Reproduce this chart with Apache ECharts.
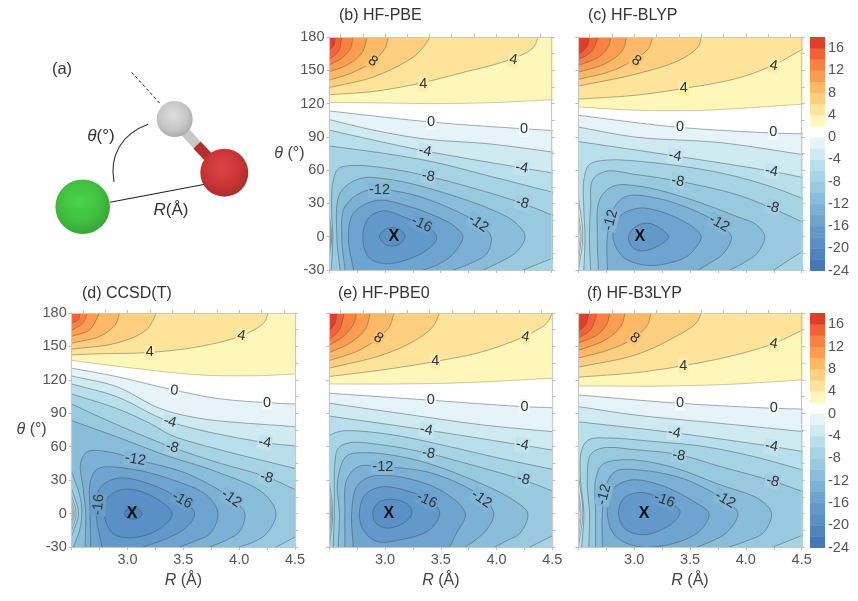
<!DOCTYPE html>
<html><head><meta charset="utf-8">
<style>html,body{margin:0;padding:0;background:#fff}#c{width:858px;height:601px}</style>
<script src="https://cdn.jsdelivr.net/npm/echarts@6/dist/echarts.min.js"></script>
</head><body><div id="c"></div>
<script>
// outside-plot closure corners, in axis units
const TL=[[2.3,200]],TR=[[4.7,200]],BR=[[4.7,-50]],BL=[[2.3,-50]];
const levelsCbar=[-24,-22,-20,-18,-16,-14,-12,-10,-8,-6,-4,-2,0,2,4,6,8,10,12,14,16];
const bandColors=['#4678b9','#4f84bf','#5a90c5','#6399ca','#6ea4cf','#7cb0d4','#89bdd9','#98c9df','#a7d4e5','#b8dfeb','#d0eaf2','#e6f4f9','#ffffff','#fff6b9','#fee39b','#fecf80','#fdb967','#fb9d53','#f78244','#f16239','#dc4029'];
const tickLabelsX=[3.0,3.5,4.0,4.5];
const topTicks=[2.6,2.8,3.0,3.2,3.4,3.6,3.8,4.0,4.2,4.4];

// contours: [level, arcs]  (R in angstrom, theta in degrees)
const contoursB=[
[2,[[[2.5,121],[3,120.5],[3.5,120],[4,121],[4.5,123.5]],TR,TL]],
[4,[[[2.5,128],[2.9,131],[3.3,138],[3.7,148],[4.12,159.5],[4.33,170],[4.38,180]],TL]],
[6,[[[2.5,134.5],[2.9,144.2],[3.26,162.4],[3.36,173],[3.405,180]],TL]],
[8,[[[2.5,141.2],[2.69,147.3],[2.89,157.9],[3.0,170],[3.03,180]],TL]],
[10,[[[2.5,148.8],[2.66,154.8],[2.79,165.5],[2.84,180]],TL]],
[12,[[[2.5,154.8],[2.61,161],[2.69,170],[2.71,180]],TL]],
[14,[[[2.5,160],[2.58,167],[2.61,180]],TL]],
[16,[[[2.5,168],[2.54,173],[2.55,180]],TL]],
[0,[[[4.5,95.8],[4.245,97.3],[3.42,103.3],[2.5,113.3]],[[2.5,5],[2.505,0],[2.5,-5]],BL,BR]],
[-2,[[[4.5,76.4],[3.945,83.6],[3.35,88.2],[2.9,96],[2.5,105.5]],[[2.5,8],[2.51,0],[2.5,-8]],BL,BR]],
[-4,[[[4.5,57.6],[4.23,62.1],[3.36,77.3],[2.9,87],[2.5,96]],[[2.5,12],[2.515,0],[2.5,-12]],BL,BR]],
[-6,[[[4.5,40.3],[3.945,54.5],[3.465,66.7],[3.05,74.2],[2.5,81.8]],[[2.5,18],[2.52,0],[2.5,-18]],BL,BR]],
[-8,[[[4.5,19.7],[4.23,30.3],[3.945,39.4],[3.39,54.5],[3.05,61.2],[2.716,64.2],[2.58,61.2],[2.53,48.5],[2.52,21.2],[2.53,0],[2.52,-24.2],[2.515,-30]],[[4.245,-30],[4.5,-19.7]]]],
[-10,[[[2.596,-30],[2.566,0],[2.596,39.4],[2.776,52.4],[3.046,51.5],[3.436,42.4],[3.945,25],[4.17,13],[4.26,0],[4.185,-13.6],[4.035,-22.7],[3.885,-30]]]],
[-12,[[[2.64,-30],[2.61,0],[2.64,27.3],[2.836,41.8],[3.106,40.9],[3.436,31.8],[3.84,12.1],[3.954,0],[3.915,-15.2],[3.765,-24.2],[3.615,-30]]]],
[-14,[[[2.716,-30],[2.67,0],[2.716,21.2],[2.926,32.7],[3.196,27.9],[3.495,16.7],[3.63,9],[3.7,0],[3.615,-15.2],[3.495,-24.2],[3.346,-30]]]],
[-16,[[[2.8,0],[2.85,16.7],[2.986,23.3],[3.196,16.7],[3.405,7.6],[3.465,-1.5],[3.375,-12],[3.166,-21.8],[2.986,-24.2],[2.85,-18.2],[2.8,0]]]],
[-18,[[[2.95,0],[2.99,6],[3.06,8],[3.14,6],[3.18,0],[3.14,-6],[3.06,-8.5],[2.99,-6],[2.95,0]]]]
];
const labelsB=[[2.89,158,'8',-35,8],[3.345,138,'4',0,4],[4.155,159.4,'4',-10,4],[3.415,103,'0',0,0],[4.25,97,'0',0,0],[3.36,77,'-4',-10,-4],[4.23,62,'-4',-10,-4],[3.39,54.5,'-8',-10,-8],[4.236,30.3,'-8',-15,-8],[2.95,41.8,'-12',0,-12],[3.84,12,'-12',-35,-12],[3.33,11.2,'-16',-25,-16]];
const crossB=[3.08,0];

const contoursC=[
[2,[[[2.5,117],[3.02,114],[3.62,114],[4.5,119.4]],TR,TL]],
[4,[[[2.5,124],[3.02,127.6],[3.44,133.6],[3.92,142.7],[4.25,154.8],[4.5,168.5]],TR,TL]],
[6,[[[2.5,135.8],[3.02,146.7],[3.41,159.4],[3.575,171.5],[3.6,180]],TL]],
[8,[[[2.5,141.8],[2.78,148.8],[3.0,159.4],[3.13,170],[3.165,180]],TL]],
[10,[[[2.5,148.2],[2.75,156.4],[2.9,168.5],[2.93,180]],TL]],
[12,[[[2.5,154.2],[2.69,162.4],[2.77,171.5],[2.79,180]],TL]],
[14,[[[2.5,159.4],[2.62,167],[2.68,180]],TL]],
[16,[[[2.5,164],[2.575,171],[2.6,180]],TL]],
[0,[[[4.5,92.7],[4.215,93.6],[3.38,98.8],[2.5,109.4]],[[2.5,14],[2.515,0],[2.5,-14]],BL,BR]],
[-2,[[[4.5,74.2],[3.77,84.8],[3.02,89.7],[2.5,98.8]],[[2.5,22],[2.525,0],[2.5,-22]],BL,BR]],
[-4,[[[4.5,53.6],[4.23,59],[3.375,72.7],[2.5,85.8]],[[2.5,36],[2.54,0],[2.5,-30]],BR]],
[-6,[[[4.5,34.8],[4.215,45.5],[3.77,57.6],[3.17,66.7],[2.75,69],[2.6,65],[2.55,51.5],[2.55,24],[2.56,0],[2.55,-30]],BR]],
[-8,[[[4.5,13.6],[4.23,25.8],[3.92,37.9],[3.4,50],[3.02,56],[2.75,59],[2.63,51.5],[2.61,27.3],[2.6,0],[2.61,-30]],[[4.25,-30],[4.5,-13.6]]]],
[-10,[[[2.68,-30],[2.67,0],[2.69,33.3],[2.81,45.5],[3.05,45.5],[3.47,34.8],[3.92,18.2],[4.09,11],[4.17,0],[4.1,-15],[3.99,-23],[3.86,-30]]]],
[-12,[[[2.76,-30],[2.76,0],[2.81,24.2],[2.93,36.4],[3.2,34.8],[3.56,22.7],[3.75,12],[3.87,0],[3.8,-15],[3.69,-23],[3.575,-30]]]],
[-14,[[[2.81,0],[2.87,18.2],[3.05,25.8],[3.32,19.7],[3.54,7.6],[3.6,0],[3.52,-13.6],[3.45,-19],[3.32,-23.6],[3.11,-25.8],[2.9,-18.2],[2.81,0]]]],
[-16,[[[2.95,0],[3.01,9],[3.14,12],[3.29,3],[3.31,0],[3.23,-7.6],[3.07,-12.7],[2.98,-9],[2.95,0]]]]
];
const labelsC=[[3.02,158.5,'8',-35,8],[3.445,133.6,'4',0,4],[4.25,154,'4',-10,4],[3.41,98.8,'0',0,0],[4.245,94,'0',0,0],[3.365,72.7,'-4',-10,-4],[4.23,59,'-4',-10,-4],[3.39,50,'-8',-10,-8],[4.24,26.4,'-8',-15,-8],[3.76,12,'-12',-30,-12],[2.79,15,'-12',75,-12]];
const crossC=[3.05,0];

const contoursD=[
[2,[[[2.5,137.4],[3.05,130.5],[3.65,124.4],[4.19,123.8],[4.5,125.3]],TR,TL]],
[4,[[[2.5,142.5],[2.75,143.4],[3.2,144.6],[3.65,150],[4.02,159.6],[4.22,171],[4.26,180]],TL]],
[6,[[[2.5,147.6],[2.9,153],[3.17,165],[3.26,180]],TL]],
[8,[[[2.5,153],[2.75,159],[2.89,169.5],[2.93,180]],TL]],
[10,[[[2.5,159],[2.66,165],[2.75,180]],TL]],
[12,[[[2.5,164.4],[2.6,171],[2.64,180]],TL]],
[14,[[[2.5,171],[2.56,174],[2.575,180]],TL]],
[0,[[[4.5,98.3],[4.25,99.5],[3.8,103.4],[3.35,112.4],[2.9,123],[2.5,130.5]],[[2.5,4],[2.507,0],[2.5,-4]],BL,BR]],
[-2,[[[4.5,77.9],[3.65,85.4],[3.29,94.4],[2.9,114],[2.5,123.5]],[[2.5,7],[2.515,0],[2.5,-7]],BL,BR]],
[-4,[[[4.5,60.7],[4.23,63.7],[3.38,82.4],[2.9,105],[2.5,116.3]],[[2.5,11],[2.525,0],[2.5,-10]],BL,BR]],
[-6,[[[4.5,40.5],[3.8,58],[3.4,70],[3.2,81],[2.9,94.4],[2.5,107.3]],[[2.5,16],[2.54,0],[2.5,-15]],BL,BR]],
[-8,[[[4.5,21.6],[4.245,33],[3.8,46],[3.4,59.5],[2.9,80],[2.5,98.3]],[[2.5,22],[2.56,0],[2.5,-20]],BL,[[4.335,-34]],[[4.335,-30],[4.5,-21]]]],
[-10,[[[4.0,-30],[4.14,-25],[4.245,-18],[4.33,0],[4.22,18],[3.8,37.5],[3.35,52],[2.9,69],[2.5,83.4]],[[2.5,37.5],[2.575,15],[2.59,0],[2.57,-15],[2.515,-30]]]],
[-12,[[[2.62,-30],[2.625,0],[2.6,24],[2.58,45],[2.64,55.5],[2.87,54.6],[3.07,48.6],[3.53,36],[3.93,13.5],[4.05,0],[4.0,-16.5],[3.88,-24],[3.74,-30]]]],
[-14,[[[2.67,-30],[2.665,0],[2.67,30],[2.74,40.5],[3.05,39.6],[3.41,30],[3.71,16.5],[3.81,0],[3.74,-18],[3.62,-24],[3.47,-30]]]],
[-16,[[[2.77,-30],[2.72,0],[2.75,22.5],[2.9,31.5],[3.14,28.5],[3.49,12],[3.6,0],[3.53,-12],[3.36,-22],[3.14,-30]]]],
[-18,[[[2.79,0],[2.83,15],[2.96,21.6],[3.17,18],[3.4,0],[3.29,-13.5],[3.05,-21.6],[2.87,-18],[2.79,0]]]],
[-20,[[[2.97,0],[3.0,4],[3.05,5],[3.1,4],[3.13,0],[3.1,-4],[3.05,-5],[3.0,-4],[2.97,0]]]]
];
const labelsD=[[3.2,144.6,'4',0,4],[4.02,159.6,'4',-10,4],[3.42,110.3,'0',-5,0],[4.25,99.5,'0',0,0],[3.38,82.4,'-4',-15,-4],[4.23,63.7,'-4',-10,-4],[3.4,59.5,'-8',-15,-8],[4.245,32.4,'-8',-15,-8],[3.07,48.6,'-12',-10,-12],[3.93,13.5,'-12',-35,-12],[3.49,12,'-16',-30,-16],[2.74,8,'-16',85,-16]];
const crossD=[3.04,0];

const contoursE=[
[2,[[[2.5,116.3],[3.1,116.3],[3.73,117.5],[4.5,121.5]],TR,TL]],
[4,[[[2.5,123],[2.98,129],[3.45,136.5],[3.88,145.5],[4.25,159],[4.45,171],[4.5,180]],TL]],
[6,[[[2.5,130.5],[2.98,142.5],[3.28,156],[3.43,168],[3.49,180]],TL]],
[8,[[[2.5,137.4],[2.745,145.5],[2.94,157.5],[3.04,168],[3.08,180]],TL]],
[10,[[[2.5,144.6],[2.685,153],[2.82,165],[2.87,180]],TL]],
[12,[[[2.5,151],[2.625,159],[2.715,169.5],[2.745,180]],TL]],
[14,[[[2.5,156],[2.59,165],[2.635,180]],TL]],
[16,[[[2.5,163.5],[2.55,171],[2.57,180]],TL]],
[0,[[[4.5,95],[4.24,96],[3.37,102],[2.5,108]],[[2.5,8],[2.505,0],[2.5,-8]],BL,BR]],
[-2,[[[4.5,73.5],[3.88,79.5],[3.13,90],[2.5,99]],[[2.5,14],[2.51,0],[2.5,-14]],BL,BR]],
[-4,[[[4.5,57],[4.225,61.5],[3.37,75],[2.5,87.5]],[[2.5,20],[2.52,0],[2.5,-20]],BL,BR]],
[-6,[[[4.5,39.7],[4.03,49.6],[3.58,60],[3.13,69.6],[2.775,74],[2.61,74],[2.51,70.4],[2.5,68.4]],[[2.5,30],[2.53,0],[2.5,-30]],BR]],
[-8,[[[4.5,20.3],[4.225,30.7],[3.67,46.6],[3.39,54],[2.985,61.5],[2.685,63.6],[2.58,58.5],[2.55,45],[2.545,0],[2.535,-30]],[[4.3,-30],[4.5,-20]]]],
[-10,[[[2.58,-30],[2.59,0],[2.575,30],[2.655,51.6],[2.835,54.6],[3.28,48],[3.79,30],[4.15,12.2],[4.28,0],[4.21,-17.6],[4.1,-24],[3.985,-30]]]],
[-12,[[[2.64,-30],[2.64,0],[2.655,30],[2.76,42],[2.985,42],[3.43,36],[3.865,15],[3.975,0],[3.91,-14.6],[3.82,-23],[3.72,-30]]]],
[-14,[[[2.715,-30],[2.7,0],[2.745,24],[2.865,33],[3.13,33],[3.52,19.7],[3.72,0],[3.64,-17.6],[3.58,-30]]]],
[-16,[[[2.77,0],[2.82,16.7],[2.97,24],[3.22,19.7],[3.43,10.7],[3.49,0],[3.4,-14.6],[3.135,-23.6],[2.925,-25],[2.805,-14.6],[2.77,0]]]],
[-18,[[[2.89,0],[2.94,10],[3.07,12.8],[3.21,7.8],[3.24,0],[3.165,-8.7],[3.015,-13],[2.92,-8.7],[2.89,0]]]]
];
const labelsE=[[2.94,157.5,'8',-35,8],[3.45,136.5,'4',0,4],[4.26,158.4,'4',-10,4],[3.41,102,'0',0,0],[4.25,96,'0',0,0],[3.37,75,'-4',-10,-4],[4.23,61.5,'-4',-10,-4],[3.39,54,'-8',-10,-8],[4.24,30.7,'-8',-15,-8],[2.98,41.5,'-12',0,-12],[3.865,13,'-12',-35,-12],[3.375,12,'-16',-25,-16]];
const crossE=[3.035,0];

const contoursF=[
[2,[[[2.5,114.5],[3.315,114.5],[3.915,116.3],[4.5,120]],TR,TL]],
[4,[[[2.5,122.4],[3.015,126.5],[3.435,132.6],[3.915,142.5],[4.26,153],[4.5,164.4]],TR,TL]],
[6,[[[2.5,131.4],[3.015,142.5],[3.375,159],[3.555,171],[3.6,180]],TL]],
[8,[[[2.5,139.5],[2.775,147],[3,157.5],[3.12,169.5],[3.15,180]],TL]],
[10,[[[2.5,146.4],[2.745,156],[2.88,168],[2.92,180]],TL]],
[12,[[[2.5,153],[2.67,160.5],[2.76,171],[2.78,180]],TL]],
[14,[[[2.5,157.5],[2.61,165],[2.67,180]],TL]],
[16,[[[2.5,163.5],[2.565,169.5],[2.595,180]],TL]],
[0,[[[4.5,93.8],[4.245,94.5],[3.405,99],[2.5,106.4]],[[2.5,14],[2.515,0],[2.5,-14]],BL,BR]],
[-2,[[[4.5,73.7],[3.77,81],[3.015,88.4],[2.5,96]],[[2.5,22],[2.525,0],[2.5,-22]],BL,BR]],
[-4,[[[4.5,55.8],[4.23,60.3],[3.36,72.5],[2.5,82.4]],[[2.5,35],[2.54,0],[2.5,-30]],BR]],
[-6,[[[4.5,39.4],[4.065,51.3],[3.615,60.3],[3.165,64.8],[2.775,67.8],[2.595,66.3],[2.53,57],[2.52,30],[2.55,0],[2.53,-30]],BR]],
[-8,[[[4.5,20],[4.245,29],[3.765,42.4],[3.405,52.8],[3.015,57.3],[2.715,58.8],[2.61,52.8],[2.58,30.4],[2.6,0],[2.595,-30]],[[4.245,-30],[4.5,-19.7]]]],
[-10,[[[2.655,-30],[2.655,0],[2.655,30.4],[2.715,43.9],[2.925,48.4],[3.315,42.4],[3.765,26],[4.125,12.5],[4.23,0],[4.155,-17.3],[4.02,-24],[3.855,-30]]]],
[-12,[[[2.715,-30],[2.715,0],[2.745,24.5],[2.835,38],[3.075,38.8],[3.465,30.4],[3.825,11],[3.93,0],[3.825,-17.3],[3.71,-24],[3.57,-30]]]],
[-14,[[[2.76,0],[2.79,20],[2.955,29.9],[3.225,26],[3.555,9.6],[3.67,0],[3.585,-15.8],[3.315,-27.8],[3.015,-29.3],[2.82,-18.8],[2.76,0]]]],
[-16,[[[2.86,0],[2.91,14],[3.06,19],[3.27,12],[3.41,2],[3.345,-8.4],[3.105,-18.8],[2.925,-14.3],[2.86,0]]]]
];
const labelsF=[[3.005,157.5,'8',-35,8],[3.44,132.6,'4',0,4],[4.25,152.4,'4',-10,4],[3.41,99,'0',0,0],[4.25,94.4,'0',0,0],[3.36,72.5,'-4',-10,-4],[4.23,60.3,'-4',-10,-4],[3.4,52,'-8',-10,-8],[4.24,29,'-8',-15,-8],[2.73,17,'-12',75,-12],[3.815,12.5,'-12',-30,-12],[3.27,12,'-16',-20,-16]];
const crossF=[3.09,0];

const FONT='"Liberation Sans",Arial,sans-serif';
const panels=[
 {title:'(b) HF-PBE',tx:339,ty:8,rect:[329.5,37,222.2,233],c:contoursB,l:labelsB,x:crossB,showY:true,showX:false},
 {title:'(c) HF-BLYP',tx:588,ty:8,rect:[578.3,37,223.4,233],c:contoursC,l:labelsC,x:crossC,showY:false,showX:false},
 {title:'(d) CCSD(T)',tx:82,ty:286,rect:[71.7,313,223.3,234],c:contoursD,l:labelsD,x:crossD,showY:true,showX:true},
 {title:'(e) HF-PBE0',tx:338,ty:286,rect:[329.3,313,223,234],c:contoursE,l:labelsE,x:crossE,showY:false,showX:true},
 {title:'(f) HF-B3LYP',tx:587,ty:286,rect:[578.3,313,223.4,234],c:contoursF,l:labelsF,x:crossF,showY:false,showX:true}
];
const colorbars=[[810,37,15,233.5],[810,313,15,234.5]];

function lerp(a,b,t){return [a[0]+(b[0]-a[0])*t,a[1]+(b[1]-a[1])*t];}
function seg(p0,p1,p2,p3,out){
  const d=(a,b)=>Math.sqrt(Math.hypot(a[0]-b[0],a[1]-b[1]))||1e-3;
  const t1=d(p0,p1),t2=t1+d(p1,p2),t3=t2+d(p2,p3),n=10;
  for(let i=0;i<n;i++){
    const t=t1+(t2-t1)*i/n;
    const A1=lerp(p0,p1,t/t1),A2=lerp(p1,p2,(t-t1)/(t2-t1)),A3=lerp(p2,p3,(t-t2)/(t3-t2));
    const B1=lerp(A1,A2,t/t2),B2=lerp(A2,A3,(t-t1)/(t3-t1));
    out.push(lerp(B1,B2,(t-t1)/(t2-t1)));
  }
}
function curve(P){
  if(P.length===1) return P.slice();
  const closed=P.length>3&&P[0][0]===P[P.length-1][0]&&P[0][1]===P[P.length-1][1];
  const out=[];
  if(closed){
    const Q=P.slice(0,-1),n=Q.length;
    for(let i=0;i<n;i++) seg(Q[(i-1+n)%n],Q[i],Q[(i+1)%n],Q[(i+2)%n],out);
    return out;
  }
  const n=P.length;
  const g0=[2*P[0][0]-P[1][0],2*P[0][1]-P[1][1]],g1=[2*P[n-1][0]-P[n-2][0],2*P[n-1][1]-P[n-2][1]];
  const A=[g0].concat(P,[g1]);
  for(let i=1;i<n;i++) seg(A[i-1],A[i],A[i+1],A[i+2],out);
  out.push(P[n-1]);
  const ext=(a,b)=>{const L=Math.hypot(a[0]-b[0],a[1]-b[1])||1;return [a[0]+(a[0]-b[0])/L*8,a[1]+(a[1]-b[1])/L*8];};
  out.unshift(ext(out[0],out[1]));
  out.push(ext(out[out.length-1],out[out.length-2]));
  return out;
}
function bandColor(lv){ // colour of the band whose lower bound is lv
  const i=levelsCbar.indexOf(lv);return bandColors[i<0?12:i];
}
const grids=[],xAxes=[],yAxes=[],series=[],titles=[];
const axisGrey='#c8c8c8',textGrey='#555';
const nameStyle={color:'#444',fontFamily:FONT,fontSize:16,rich:{i:{fontStyle:'italic',fontSize:16,color:'#444',fontFamily:FONT}}};
const tick={show:true,inside:false,length:3,lineStyle:{color:'#bbb'}};
panels.forEach((p,pi)=>{
  grids.push({left:p.rect[0],top:p.rect[1],width:p.rect[2],height:p.rect[3],containLabel:false});
  const xb=xAxes.length,yl=yAxes.length;
  const line={show:true,onZero:false,lineStyle:{color:axisGrey,width:1.2}};
  xAxes.push({type:'value',gridIndex:pi,position:'bottom',z:10,min:2.5,max:4.5,interval:0.25,axisLine:line,splitLine:{show:false},
    axisTick:tick,
    axisLabel:{show:p.showX,color:textGrey,fontFamily:FONT,fontSize:14.5,margin:5,customValues:tickLabelsX,formatter:v=>v.toFixed(1)},
    name:p.showX?'{i|R} (Å)':'',nameLocation:'middle',nameGap:26,nameTextStyle:nameStyle});
  xAxes.push({type:'value',gridIndex:pi,position:'top',z:10,min:2.5,max:4.5,axisLine:line,splitLine:{show:false},
    axisTick:Object.assign({},tick,{customValues:topTicks}),axisLabel:{show:false}});
  yAxes.push({type:'value',gridIndex:pi,position:'left',z:10,min:-30,max:180,interval:30,axisLine:line,splitLine:{show:false},
    axisTick:tick,
    axisLabel:{show:p.showY,color:textGrey,fontFamily:FONT,fontSize:14.5,margin:5},
    name:p.showY?'{i|θ} (°)':'',nameLocation:'middle',nameRotate:0,nameMoveOverlap:false,nameGap:p.showY?25:0,nameTextStyle:nameStyle});
  yAxes.push({type:'value',gridIndex:pi,position:'right',z:10,min:-30,max:180,interval:15,axisLine:line,splitLine:{show:false},
    axisTick:tick,axisLabel:{show:false}});
  series.push({type:'custom',xAxisIndex:xb,yAxisIndex:yl,clip:true,silent:true,animation:false,z:2,
    data:p.c.map((c,i)=>[i]),encode:{x:0},
    renderItem(params,api){
      const c=p.c[params.dataIndex],lv=c[0];
      const pts=[];
      c[1].forEach(arc=>{curve(arc.map(q=>api.coord(q))).forEach(q=>pts.push(q));});
      const band=lv>0?lv:lv-2;
      return {type:'polygon',shape:{points:pts},style:{fill:bandColor(band),stroke:lv===2?'rgba(150,135,90,0.5)':(lv>2?'rgba(90,80,50,0.5)':'rgba(60,70,75,0.5)'),lineWidth:0.9}};
    }});
  series.push({type:'custom',xAxisIndex:xb,yAxisIndex:yl,clip:false,silent:true,animation:false,z:3,
    data:p.l.map((c,i)=>[i]),encode:{x:0},
    renderItem(params,api){
      const l=p.l[params.dataIndex],q=api.coord([l[0],l[1]]);
      const bg=echarts.color.lerp(0.5,[bandColor(l[4]-2),bandColor(l[4])]);
      return {type:'text',x:q[0],y:q[1],rotation:l[3]*Math.PI/180,
        style:{text:l[2],font:'14.5px '+FONT,fill:'#333',align:'center',verticalAlign:'middle',backgroundColor:bg,padding:[0,1]}};
    }});
  series.push({type:'custom',xAxisIndex:xb,yAxisIndex:yl,clip:false,silent:true,animation:false,z:4,
    data:[[p.x[0],p.x[1]]],encode:{x:0,y:1},
    renderItem(params,api){
      const q=api.coord([api.value(0),api.value(1)]);
      return {type:'text',x:q[0],y:q[1],style:{text:'X',font:'bold 16px '+FONT,fill:'#111',align:'center',verticalAlign:'middle'}};
    }});
  titles.push({text:p.title,left:p.tx,top:p.ty,padding:0,textStyle:{fontFamily:FONT,fontSize:16,fontWeight:'normal',color:'#333'}});
});
colorbars.forEach(b=>{
  const gi=grids.length;
  grids.push({left:b[0],top:b[1],width:b[2],height:b[3]});
  const xi=xAxes.length,yi=yAxes.length;
  xAxes.push({type:'value',gridIndex:gi,min:0,max:1,show:false});
  yAxes.push({type:'value',gridIndex:gi,position:'right',min:-24,max:18,interval:4,axisLine:{show:false},axisTick:{show:false},splitLine:{show:false},
    axisLabel:{color:textGrey,fontFamily:FONT,fontSize:14.5,margin:3}});
  series.push({type:'custom',xAxisIndex:xi,yAxisIndex:yi,silent:true,animation:false,data:levelsCbar.map(v=>[0,v]),encode:{y:1},
    renderItem(params,api){
      const v=api.value(1),a=api.coord([0,v+2]),c=api.coord([1,v]);
      return {type:'rect',shape:{x:a[0],y:a[1],width:c[0]-a[0],height:c[1]-a[1]+0.5},style:{fill:bandColor(v)}};
    }});
});

// panel (a): schematic of the molecule
const rg=(c0,c1,c2)=>({type:'radial',x:0.45,y:0.4,r:0.62,colorStops:[{offset:0,color:c0},{offset:0.65,color:c1},{offset:1,color:c2}]});
const graphic=[
 {type:'line',shape:{x1:110,y1:202.3,x2:205,y2:184.3},style:{stroke:'#222',lineWidth:1.1}},
 {type:'line',shape:{x1:131.7,y1:72.3,x2:160.7,y2:104.3},style:{stroke:'#222',lineWidth:1,lineDash:[3,2.5]}},
 {type:'bezierCurve',shape:{x1:114,y1:182,cpx1:109,cpy1:155,cpx2:122,cpy2:134,x2:148,y2:124.3},style:{stroke:'#333',lineWidth:1.1,fill:'none'}},
 {type:'line',shape:{x1:178,y1:124,x2:197,y2:145},style:{stroke:'#c8c8c8',lineWidth:10}},
 {type:'line',shape:{x1:197,y1:145,x2:212,y2:161},style:{stroke:'#b03030',lineWidth:10}},
 {type:'circle',shape:{cx:82.7,cy:206.7,r:27.3},style:{fill:rg('#4cd44c','#3fbd3f','#36a336')}},
 {type:'circle',shape:{cx:224.3,cy:172.7,r:24},style:{fill:rg('#de4545','#c63434','#a82c2c')}},
 {type:'circle',shape:{cx:174.7,cy:119,r:18},style:{fill:rg('#dedede','#c6c6c6','#aaaaaa')}},
 {type:'text',x:62,y:69.5,style:{text:'(a)',font:'16.5px '+FONT,fill:'#333',align:'center',verticalAlign:'middle'}},
 {type:'text',x:101,y:136,style:{text:'{i|θ}{n|(°)}',rich:{i:{font:'italic 17px '+FONT,fill:'#333'},n:{font:'17px '+FONT,fill:'#333'}},align:'center',verticalAlign:'middle'}},
 {type:'text',x:171,y:210,style:{text:'{i|R}{n|(Å)}',rich:{i:{font:'italic 17px '+FONT,fill:'#333'},n:{font:'17px '+FONT,fill:'#333'}},align:'center',verticalAlign:'middle'}}
];
const chart=echarts.init(document.getElementById('c'),null,{renderer:'canvas'});
chart.setOption({animation:false,backgroundColor:'#fff',title:titles,grid:grids,xAxis:xAxes,yAxis:yAxes,series:series,graphic:{elements:graphic}});
</script></body></html>
